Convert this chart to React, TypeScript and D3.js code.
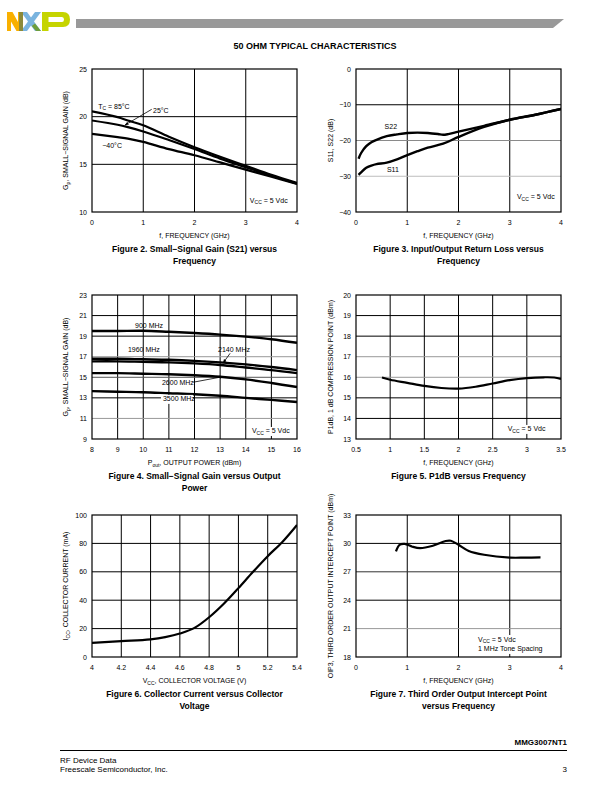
import React from 'react';
import * as d3 from 'd3';

const NARROW = "'Liberation Sans Narrow','Arial Narrow','Liberation Sans',Arial,sans-serif";
const SANS = "'Liberation Sans',Arial,Helvetica,sans-serif";

// ---------- Figure 2: Small-signal gain vs frequency ----------
const fig2Freq = [0, 0.5, 0.7, 1, 1.5, 2, 2.5, 3, 3.5, 4];
const fig2Gain85 = [20.55, 19.95, 19.6, 19.1, 17.9, 16.8, 15.8, 14.85, 13.9, 13.05];
const fig2Gain25 = [19.6, 19.15, 18.9, 18.45, 17.55, 16.6, 15.6, 14.7, 13.8, 12.97];
const fig2GainM40 = [18.2, 17.85, 17.7, 17.35, 16.6, 15.95, 15.2, 14.45, 13.7, 12.93];
const fig2XTicks = [0, 1, 2, 3, 4];
const fig2YTicks = [10, 15, 20, 25];

// ---------- Figure 3: Return loss ----------
const fig3FreqS22 = [0.05, 0.1, 0.2, 0.3, 0.4, 0.6, 0.8, 1.0, 1.2, 1.4, 1.6, 1.7, 1.8, 2.0, 2.5, 3.0, 3.5, 4.0];
const fig3S22 = [-25.1, -23.5, -21.6, -20.5, -19.8, -18.8, -18.3, -17.9, -17.8, -17.9, -18.2, -18.4, -18.2, -17.5, -15.9, -14.2, -12.8, -11.2];
const fig3FreqS11 = [0.05, 0.1, 0.2, 0.3, 0.4, 0.6, 0.8, 1.0, 1.2, 1.4, 1.7, 2.0, 2.5, 3.0, 3.5, 4.0];
const fig3S11 = [-29.6, -28.9, -27.6, -27.0, -26.6, -26.2, -25.3, -24.1, -23.0, -22.0, -20.9, -19.0, -16.2, -14.2, -12.8, -11.2];
const fig3XTicks = [0, 1, 2, 3, 4];
const fig3YTicks = [-40, -30, -20, -10, 0];

// ---------- Figure 4: Gain vs output power ----------
const fig4Pout = [8, 9, 10, 11, 12, 13, 14, 15, 16];
const fig4G900 = [19.5, 19.5, 19.52, 19.42, 19.3, 19.15, 18.95, 18.7, 18.35];
const fig4G1960 = [16.8, 16.8, 16.75, 16.7, 16.6, 16.45, 16.25, 16.0, 15.7];
const fig4G2140 = [16.55, 16.55, 16.5, 16.45, 16.35, 16.2, 15.95, 15.7, 15.4];
const fig4G2600 = [15.4, 15.4, 15.35, 15.3, 15.2, 15.05, 14.8, 14.45, 14.05];
const fig4G3500 = [13.65, 13.6, 13.55, 13.45, 13.35, 13.2, 13.0, 12.8, 12.6];
const fig4XTicks = [8, 9, 10, 11, 12, 13, 14, 15, 16];
const fig4YTicks = [9, 11, 13, 15, 17, 19, 21, 23];

// ---------- Figure 5: P1dB vs frequency ----------
const fig5Freq = [0.88, 1.0, 1.25, 1.5, 1.75, 2.0, 2.25, 2.5, 2.75, 3.0, 3.25, 3.4, 3.5];
const fig5P1dB = [15.99, 15.88, 15.73, 15.58, 15.48, 15.45, 15.54, 15.7, 15.86, 15.96, 16.0, 15.99, 15.92];
const fig5XTicks = [0.5, 1, 1.5, 2, 2.5, 3, 3.5];
const fig5YTicks = [13, 14, 15, 16, 17, 18, 19, 20];

// ---------- Figure 6: Collector current vs voltage ----------
const fig6Vcc = [4.0, 4.2, 4.4, 4.5, 4.6, 4.7, 4.8, 4.9, 5.0, 5.1, 5.2, 5.3, 5.4];
const fig6Icc = [10, 11.2, 12.4, 14, 16.5, 20.5, 28, 37.5, 48.5, 60, 71, 81, 93];
const fig6XTicks = [4, 4.2, 4.4, 4.6, 4.8, 5, 5.2, 5.4];
const fig6YTicks = [0, 20, 40, 60, 80, 100];

// ---------- Figure 7: OIP3 vs frequency ----------
const fig7Freq = [0.78, 0.85, 0.95, 1.1, 1.25, 1.5, 1.75, 1.85, 2.0, 2.2, 2.5, 3.0, 3.3, 3.6];
const fig7Oip3 = [29.15, 29.85, 29.95, 29.65, 29.5, 29.75, 30.25, 30.28, 29.85, 29.2, 28.8, 28.5, 28.5, 28.52];
const fig7XTicks = [0, 1, 2, 3, 4];
const fig7YTicks = [18, 21, 24, 27, 30, 33];

type Box = { left: number; right: number; top: number; bottom: number };
type Ser = { x: number[]; y: number[]; w?: number };
type Sc = { x: d3.ScaleLinear<number, number>; y: d3.ScaleLinear<number, number> };

function Chart(props: {
  box: Box;
  xDomain: [number, number];
  yDomain: [number, number];
  xTicks: number[];
  yTicks: number[];
  gridY?: (v: number) => string | null;
  series: Ser[];
  yTitle: React.ReactNode;
  yTitleX: number;
  xTitle: React.ReactNode;
  caption: string[];
  extra?: (s: Sc) => React.ReactNode;
  curve?: any;
}) {
  const { box } = props;
  const x = d3.scaleLinear().domain(props.xDomain).range([box.left, box.right]);
  const y = d3.scaleLinear().domain(props.yDomain).range([box.bottom, box.top]);
  const line = d3
    .line<[number, number]>()
    .x((d) => x(d[0]))
    .y((d) => y(d[1]))
    .curve(props.curve || d3.curveCatmullRom.alpha(0.5));
  const xf = (v: number) => String(v);
  const yf = (v: number) => String(v).replace('-', '\u2212');
  const cx = (box.left + box.right) / 2;
  const cy = (box.top + box.bottom) / 2;
  const clipId = `clip-${box.left}-${box.top}`;
  return (
    <g>
      <defs>
        <clipPath id={clipId}>
          <rect x={box.left} y={box.top} width={box.right - box.left} height={box.bottom - box.top} />
        </clipPath>
      </defs>
      {props.xTicks.slice(1, -1).map((t) => (
        <line key={'gx' + t} x1={x(t)} x2={x(t)} y1={box.top} y2={box.bottom} stroke="#000" strokeWidth={1} />
      ))}
      {props.yTicks.slice(1, -1).map((t) => {
        const c = props.gridY ? props.gridY(t) : '#000';
        return c ? <line key={'gy' + t} x1={box.left} x2={box.right} y1={y(t)} y2={y(t)} stroke={c} strokeWidth={1} /> : null;
      })}
      <g clipPath={`url(#${clipId})`}>
        {props.series.map((s, i) => (
          <path
            key={i}
            d={line(s.x.map((v, j) => [v, s.y[j]] as [number, number])) || ''}
            fill="none"
            stroke="#000"
            strokeWidth={s.w || 2}
            strokeLinejoin="round"
          />
        ))}
      </g>
      <rect x={box.left} y={box.top} width={box.right - box.left} height={box.bottom - box.top} fill="none" stroke="#000" strokeWidth={1.2} />
      {props.extra && props.extra({ x, y })}
      <g fontFamily={NARROW} fontSize={7} fill="#000">
        {props.xTicks.map((t) => (
          <text key={'tx' + t} x={x(t)} y={box.bottom + 12.5} textAnchor="middle">
            {xf(t)}
          </text>
        ))}
        {props.yTicks.map((t) => (
          <text key={'ty' + t} x={box.left - 5} y={y(t) + 2.5} textAnchor="end">
            {yf(t)}
          </text>
        ))}
        <text x={cx} y={box.bottom + 26} textAnchor="middle">
          {props.xTitle}
        </text>
        <text transform={`translate(${props.yTitleX},${cy}) rotate(-90)`} textAnchor="middle" dy="0.35em">
          {props.yTitle}
        </text>
      </g>
      <g fontFamily={SANS} fontSize={8.5} fontWeight="bold" fill="#000">
        {props.caption.map((c, i) => (
          <text key={i} x={cx} y={box.bottom + 40 + i * 11.5} textAnchor="middle">
            {c}
          </text>
        ))}
      </g>
    </g>
  );
}

// Text with a subscript: base + sub + rest, all in one flow
const SubT = (p: { base: string; sub: string; rest: string }) => (
  <>
    {p.base}
    <tspan dy={1.8} fontSize={5}>
      {p.sub}
    </tspan>
    <tspan dy={-1.8}>{p.rest}</tspan>
  </>
);

function Lbl(props: { x: number; y: number; children: React.ReactNode; anchor?: string; bg?: number }) {
  return (
    <g>
      {props.bg ? <rect x={props.x - 2} y={props.y - 6.5} width={props.bg} height={9} fill="#fff" /> : null}
      <text x={props.x} y={props.y} fontFamily={NARROW} fontSize={7} textAnchor={props.anchor || 'start'}>
        {props.children}
      </text>
    </g>
  );
}

export default function App() {
  const P2: Box = { left: 92, right: 297, top: 69, bottom: 212 };
  const P3: Box = { left: 356, right: 561, top: 69, bottom: 212 };
  const P4: Box = { left: 92, right: 297, top: 295, bottom: 439 };
  const P5: Box = { left: 356, right: 561, top: 295, bottom: 439 };
  const P6: Box = { left: 92, right: 297, top: 515, bottom: 657 };
  const P7: Box = { left: 356, right: 561, top: 515, bottom: 657 };

  return (
    <svg width={612} height={792} style={{ position: 'absolute', left: 0, top: 0, background: '#fff' }}>
      <defs>
        <marker id="arr" viewBox="0 0 10 10" refX="9" refY="5" markerWidth="5" markerHeight="5" orient="auto">
          <path d="M0,1 L10,5 L0,9 z" fill="#000" />
        </marker>
      </defs>
      <rect width={612} height={792} fill="#fff" />
      {/* Logo */}
      <g>
        <polygon points="7,12 12.5,12 18,22 18,12 22,12 22,31 16.5,31 11,21.5 11,31 7,31" fill="#F9B000" />
        <polygon points="21,12 27,12 41,31 35,31" fill="#7AB4DF" />
        <polygon points="35,12 41,12 27,31 21,31" fill="#7AB4DF" />
        <polygon points="19,12 23,12 23,31 19,31" fill="#8C8A3A" />
        <polygon points="35,23.5 41,31 36,31 31.8,26" fill="#6E9E3C" />
        <path
          d="M42,12 H63 Q70,12 70,19.5 Q70,27 63,27 H48.5 V31 H42 Z M48.5,17 H62 Q64,17 64,19.5 Q64,22 62,22 H48.5 Z"
          fill="#C5D400"
          fillRule="evenodd"
        />
        <polygon points="76,19 564,19 553,28 76,28" fill="#999" />
      </g>
      <text x={315} y={49} textAnchor="middle" fontFamily={SANS} fontWeight="bold" fontSize={9}>
        50 OHM TYPICAL CHARACTERISTICS
      </text>

      {/* Figure 2 */}
      <Chart
        box={P2}
        xDomain={[0, 4]}
        yDomain={[10, 25]}
        xTicks={fig2XTicks}
        yTicks={fig2YTicks}
        series={[
          { x: fig2Freq, y: fig2Gain85, w: 2.2 },
          { x: fig2Freq, y: fig2Gain25, w: 2.2 },
          { x: fig2Freq, y: fig2GainM40, w: 2.2 },
        ]}
        yTitleX={66}
        yTitle={<SubT base="G" sub="p" rest=", SMALL−SIGNAL GAIN (dB)" />}
        xTitle="f, FREQUENCY (GHz)"
        caption={['Figure 2. Small\u2212Signal Gain (S21) versus', 'Frequency']}
        extra={({ x, y }) => (
          <g>
            <Lbl x={x(0.12)} y={y(21.1) + 2.5}>
              <SubT base="T" sub="C" rest=" = 85°C" />
            </Lbl>
            <Lbl x={x(1.19)} y={y(20.6) + 2.5}>
              25°C
            </Lbl>
            <line x1={x(1.165)} y1={y(20.77)} x2={x(0.644)} y2={y(19.12)} stroke="#000" strokeWidth={0.8} markerEnd="url(#arr)" />
            <Lbl x={x(0.2)} y={y(17.0) + 2.5}>
              −40°C
            </Lbl>
            <Lbl x={x(3.08)} y={y(11.25) + 2.5} bg={40}>
              <SubT base="V" sub="CC" rest=" = 5 Vdc" />
            </Lbl>
          </g>
        )}
      />

      {/* Figure 3 */}
      <Chart
        box={P3}
        xDomain={[0, 4]}
        yDomain={[-40, 0]}
        xTicks={fig3XTicks}
        yTicks={fig3YTicks}
        gridY={(v) => (v === -10 ? '#000' : v === -20 ? '#8a8a8a' : '#bdbdbd')}
        series={[
          { x: fig3FreqS22, y: fig3S22, w: 2.4 },
          { x: fig3FreqS11, y: fig3S11, w: 2.4 },
        ]}
        yTitleX={331}
        yTitle="S11, S22 (dB)"
        xTitle="f, FREQUENCY (GHz)"
        caption={['Figure 3. Input/Output Return Loss versus', 'Frequency']}
        extra={({ x, y }) => (
          <g>
            <Lbl x={x(0.68)} y={y(-16.2) + 2.5} anchor="middle">
              S22
            </Lbl>
            <Lbl x={x(0.72)} y={y(-28.25) + 2.5} anchor="middle">
              S11
            </Lbl>
            <Lbl x={x(3.14)} y={y(-35.8) + 2.5} bg={40}>
              <SubT base="V" sub="CC" rest=" = 5 Vdc" />
            </Lbl>
          </g>
        )}
      />

      {/* Figure 4 */}
      <Chart
        box={P4}
        xDomain={[8, 16]}
        yDomain={[9, 23]}
        xTicks={fig4XTicks}
        yTicks={fig4YTicks}
        gridY={(v) => (v === 17 || v === 11 ? '#999' : v === 15 ? '#555' : '#000')}
        series={[
          { x: fig4Pout, y: fig4G900, w: 2.4 },
          { x: fig4Pout, y: fig4G1960, w: 2.4 },
          { x: fig4Pout, y: fig4G2140, w: 2.4 },
          { x: fig4Pout, y: fig4G2600, w: 2.4 },
          { x: fig4Pout, y: fig4G3500, w: 2.4 },
        ]}
        yTitleX={66}
        yTitle={<SubT base="G" sub="p" rest=", SMALL−SIGNAL GAIN (dB)" />}
        xTitle={<SubT base="P" sub="out" rest=", OUTPUT POWER (dBm)" />}
        caption={['Figure 4. Small\u2212Signal Gain versus Output', 'Power']}
        extra={({ x, y }) => (
          <g>
            <Lbl x={x(9.68)} y={y(20.0) + 2.5}>
              900 MHz
            </Lbl>
            <Lbl x={x(9.4)} y={y(17.75) + 2.5}>
              1960 MHz
            </Lbl>
            <Lbl x={x(12.92)} y={y(17.75) + 2.5}>
              2140 MHz
            </Lbl>
            <line x1={x(13.39)} y1={y(17.33)} x2={x(13.12)} y2={y(16.4)} stroke="#000" strokeWidth={0.8} markerEnd="url(#arr)" />
            <Lbl x={x(10.73)} y={y(14.45) + 2.5}>
              2600 MHz
            </Lbl>
            <line x1={x(11.95)} y1={y(14.52)} x2={x(13.11)} y2={y(15.06)} stroke="#000" strokeWidth={0.8} markerEnd="url(#arr)" />
            <Lbl x={x(10.77)} y={y(12.9) + 2.5} bg={32}>
              3500 MHz
            </Lbl>
            <Lbl x={x(14.24)} y={y(9.78) + 2.5} bg={40}>
              <SubT base="V" sub="CC" rest=" = 5 Vdc" />
            </Lbl>
          </g>
        )}
      />

      {/* Figure 5 */}
      <Chart
        box={P5}
        xDomain={[0.5, 3.5]}
        yDomain={[13, 20]}
        xTicks={fig5XTicks}
        yTicks={fig5YTicks}
        gridY={(v) => (v === 17 || v === 16 ? '#999' : '#000')}
        series={[{ x: fig5Freq, y: fig5P1dB, w: 2.2 }]}
        yTitleX={331}
        yTitle="P1dB, 1 dB COMPRESSION POINT (dBm)"
        xTitle="f, FREQUENCY (GHz)"
        caption={['Figure 5. P1dB versus Frequency']}
        extra={({ x, y }) => (
          <g>
            <Lbl x={x(2.72)} y={y(13.49) + 2.5} bg={40}>
              <SubT base="V" sub="CC" rest=" = 5 Vdc" />
            </Lbl>
          </g>
        )}
      />

      {/* Figure 6 */}
      <Chart
        box={P6}
        xDomain={[4, 5.4]}
        yDomain={[0, 100]}
        xTicks={fig6XTicks}
        yTicks={fig6YTicks}
        series={[{ x: fig6Vcc, y: fig6Icc, w: 2.2 }]}
        curve={d3.curveMonotoneX}
        yTitleX={66}
        yTitle={<SubT base="I" sub="CC" rest=", COLLECTOR CURRENT (mA)" />}
        xTitle={<SubT base="V" sub="CC" rest=", COLLECTOR VOLTAGE (V)" />}
        caption={['Figure 6. Collector Current versus Collector', 'Voltage']}
      />

      {/* Figure 7 */}
      <Chart
        box={P7}
        xDomain={[0, 4]}
        yDomain={[18, 33]}
        xTicks={fig7XTicks}
        yTicks={fig7YTicks}
        gridY={(v) => (v === 21 ? '#999' : v === 27 ? '#333' : '#000')}
        series={[{ x: fig7Freq, y: fig7Oip3, w: 2.2 }]}
        yTitleX={331}
        yTitle="OIP3, THIRD ORDER OUTPUT INTERCEPT POINT (dBm)"
        xTitle="f, FREQUENCY (GHz)"
        caption={['Figure 7. Third Order Output Intercept Point', 'versus Frequency']}
        extra={({ x, y }) => (
          <g>
            <rect x={x(2.38) - 2} y={y(19.9) - 4} width={66} height={y(18.85) - y(19.9) + 9} fill="#fff" />
            <Lbl x={x(2.38)} y={y(19.9) + 2.5}>
              <SubT base="V" sub="CC" rest=" = 5 Vdc" />
            </Lbl>
            <Lbl x={x(2.38)} y={y(18.85) + 2.5}>
              1 MHz Tone Spacing
            </Lbl>
          </g>
        )}
      />

      {/* Footer */}
      <text x={567} y={745} textAnchor="end" fontFamily={SANS} fontWeight="bold" fontSize={8}>
        MMG3007NT1
      </text>
      <line x1={60} x2={567} y1={750.5} y2={750.5} stroke="#000" strokeWidth={1} />
      <text x={60} y={763} fontFamily={SANS} fontSize={8}>
        RF Device Data
      </text>
      <text x={60} y={772} fontFamily={SANS} fontSize={8}>
        Freescale Semiconductor, Inc.
      </text>
      <text x={567} y={772} textAnchor="end" fontFamily={SANS} fontSize={8}>
        3
      </text>
    </svg>
  );
}
